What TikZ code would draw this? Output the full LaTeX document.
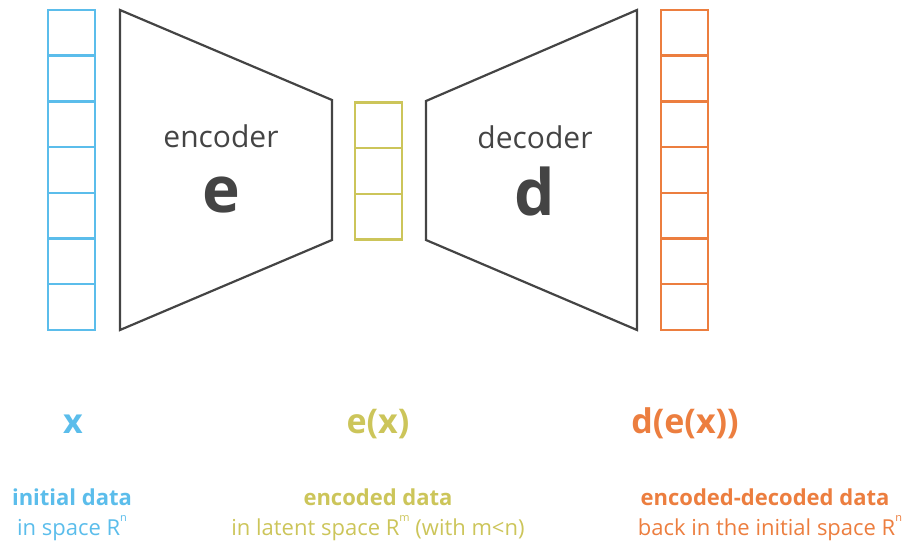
\documentclass[tikz,border=0pt]{standalone}
\usepackage{fontspec}
\setmainfont{Open Sans}
\definecolor{cblue}{HTML}{5BBDEB}
\definecolor{cyel}{HTML}{CCC55A}
\definecolor{corange}{HTML}{EC7E3F}
\definecolor{cgray}{HTML}{444444}
\newcommand{\supsm}[1]{\raisebox{0.6em}{\fontsize{11}{12}\selectfont #1}}
\begin{document}
\begin{tikzpicture}[x=1pt,y=-1pt,
  cell/.style={draw, line width=2.4pt, minimum width=47pt, minimum height=45.7pt, inner sep=0pt, outer sep=0pt},
  trap/.style={draw=cgray, line width=2.2pt, line join=miter},
  lbl/.style={font=\fontsize{30}{34}\selectfont, text=cgray, anchor=base, inner sep=0pt},
  big/.style={font=\bfseries\fontsize{64}{66}\selectfont, text=cgray, anchor=base, inner sep=0pt},
  var/.style={font=\bfseries\fontsize{34}{38}\selectfont, anchor=base, inner sep=0pt},
  capbold/.style={font=\bfseries\fontsize{22}{26}\selectfont, anchor=base, inner sep=0pt},
  capplain/.style={font=\fontsize{22}{26}\selectfont, anchor=base, inner sep=0pt}]
\useasboundingbox (0,0) rectangle (909,545);
% input column
\foreach \i in {0,...,6}
  \node[cell, draw=cblue, anchor=north west] (in\i) at (48, {10+\i*45.7}) {};
% encoder
\coordinate (e1) at (120,10);
\coordinate (e2) at (332,100);
\coordinate (e3) at (332,240);
\coordinate (e4) at (120,330);
\draw[trap] (e1) -- (e2) -- (e3) -- (e4) -- cycle;
\node[lbl] (enc) at (221,148) {encoder};
\node[big] (ee) at (221,213) {e};
% latent column
\foreach \i in {0,...,2}
  \node[cell, draw=cyel, anchor=north west] (lt\i) at (355, {102.5+\i*45.7}) {};
% decoder
\coordinate (d1) at (426,101);
\coordinate (d2) at (637,10);
\coordinate (d3) at (637,330);
\coordinate (d4) at (426,240);
\draw[trap] (d1) -- (d2) -- (d3) -- (d4) -- cycle;
\node[lbl] (dec) at (535,149) {decoder};
\node[big] (dd) at (535,215) {d};
% output column
\foreach \i in {0,...,6}
  \node[cell, draw=corange, anchor=north west] (out\i) at (661, {10+\i*45.7}) {};
% variable labels
\node[var, text=cblue] (vx) at (73,433) {x};
\node[var, text=cyel] (vex) at (378,433) {e(x)};
\node[var, text=corange] (vdex) at (685,433) {d(e(x))};
% captions
\node[capbold, text=cblue] (c1a) at (72,505) {initial data};
\node[capplain, text=cblue] (c1b) at (72,535) {in space R\supsm{n}};
\node[capbold, text=cyel] (c2a) at (378,505) {encoded data};
\node[capplain, text=cyel] (c2b) at (378,535) {in latent space R\supsm{m} (with m<n)};
\node[capbold, text=corange] (c3a) at (765,505) {encoded-decoded data};
\node[capplain, text=corange] (c3b) at (770,535) {back in the initial space R\supsm{n}};
\end{tikzpicture}
\end{document}
